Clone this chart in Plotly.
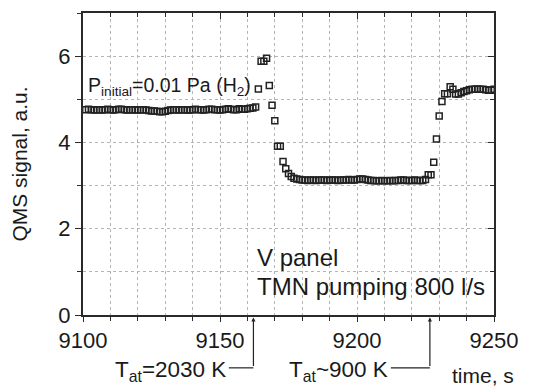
import plotly.graph_objects as go

# ---------------- data ----------------
time_s = [
    9101, 9102, 9103, 9104, 9105, 9106, 9107, 9108, 9109, 9110, 9111, 9112, 9113, 9114, 9115,
    9116, 9117, 9118, 9119, 9120, 9121, 9122, 9123, 9124, 9125, 9126, 9127, 9128, 9129, 9130,
    9131, 9132, 9133, 9134, 9135, 9136, 9137, 9138, 9139, 9140, 9141, 9142, 9143, 9144, 9145,
    9146, 9147, 9148, 9149, 9150, 9151, 9152, 9153, 9154, 9155, 9156, 9157, 9158, 9159, 9160,
    9161, 9162, 9163, 9164, 9165, 9166, 9167, 9168, 9169, 9170, 9171, 9172, 9173, 9174, 9175,
    9176, 9177, 9178, 9179, 9180, 9181, 9182, 9183, 9184, 9185, 9186, 9187, 9188, 9189, 9190,
    9191, 9192, 9193, 9194, 9195, 9196, 9197, 9198, 9199, 9200, 9201, 9202, 9203, 9204, 9205,
    9206, 9207, 9208, 9209, 9210, 9211, 9212, 9213, 9214, 9215, 9216, 9217, 9218, 9219, 9220,
    9221, 9222, 9223, 9224, 9225, 9226, 9227, 9228, 9229, 9230, 9231, 9232, 9233, 9234, 9235,
    9236, 9237, 9238, 9239, 9240, 9241, 9242, 9243, 9244, 9245, 9246, 9247, 9248, 9249, 9250,
]

qms_signal = [
    4.76, 4.77, 4.76, 4.75, 4.76, 4.76, 4.75, 4.76, 4.77, 4.76, 4.75, 4.76, 4.77, 4.77, 4.76,
    4.75, 4.76, 4.76, 4.75, 4.75, 4.76, 4.76, 4.75, 4.74, 4.73, 4.73, 4.72, 4.71, 4.71, 4.72,
    4.74, 4.75, 4.76, 4.76, 4.75, 4.76, 4.76, 4.75, 4.75, 4.76, 4.77, 4.76, 4.76, 4.75, 4.76,
    4.77, 4.77, 4.76, 4.76, 4.75, 4.76, 4.77, 4.78, 4.77, 4.76, 4.76, 4.78, 4.77, 4.77, 4.78,
    4.79, 4.80, 4.82, 5.24, 5.88, 5.88, 5.95, 5.32, 4.86, 4.50, 3.91, 3.91, 3.56, 3.39, 3.28,
    3.21, 3.17, 3.15, 3.14, 3.13, 3.13, 3.12, 3.13, 3.13, 3.12, 3.13, 3.13, 3.13, 3.12, 3.13,
    3.13, 3.13, 3.12, 3.13, 3.13, 3.13, 3.14, 3.13, 3.13, 3.14, 3.15, 3.15, 3.14, 3.13, 3.12,
    3.12, 3.11, 3.11, 3.12, 3.11, 3.11, 3.12, 3.11, 3.12, 3.12, 3.13, 3.13, 3.12, 3.12, 3.12,
    3.13, 3.12, 3.12, 3.12, 3.14, 3.25, 3.25, 3.54, 4.08, 4.61, 4.95, 5.13, 5.13, 5.29, 5.23,
    5.12, 5.12, 5.15, 5.18, 5.20, 5.22, 5.23, 5.23, 5.24, 5.23, 5.23, 5.22, 5.21, 5.21, 5.23,
]

x_range = [9100, 9250]
y_range = [0, 7]
x_major = [9100, 9150, 9200, 9250]
y_major = [0, 2, 4, 6]

# event markers (time of the arrow, label)
event_times = [9162.2, 9226.6]
event_labels = ["T<sub>at</sub>=2030 K", "T<sub>at</sub>~900 K"]

FONT = "Liberation Sans, Arial, sans-serif"
AX = "#2a2a2a"
GRID = "#b5b5b5"
TXT = "#1a1a1a"

fig = go.Figure()
fig.add_trace(go.Scatter(
    x=time_s, y=qms_signal, mode="markers",
    marker=dict(symbol="square-open", size=6, color="#222222", line=dict(width=1.5)),
    showlegend=False, hoverinfo="skip",
))
# invisible companion trace to activate the mirrored (top/right) axes
fig.add_trace(go.Scatter(
    x=time_s, y=qms_signal, mode="markers", xaxis="x2", yaxis="y2",
    marker=dict(opacity=0), showlegend=False, hoverinfo="skip",
))

common_grid = dict(showgrid=True, gridcolor=GRID, griddash="dot", gridwidth=1)

# the page body adds an 8 px offset, so the figure is 8 px smaller on each side
fig.update_layout(
    width=536, height=379,
    margin=dict(l=75, r=50, t=5, b=72),
    paper_bgcolor="white", plot_bgcolor="white",
    font=dict(family=FONT, color=TXT),
    xaxis=dict(
        range=x_range, tickvals=x_major, ticks="outside", ticklen=5, tickwidth=1.3,
        tickcolor=AX, showline=True, linecolor=AX, linewidth=2, zeroline=False,
        automargin=False,
        tickfont=dict(size=22, family=FONT, color=TXT),
        minor=dict(dtick=10, tick0=9100, ticks="outside", ticklen=4, tickwidth=1.2,
                   tickcolor=AX, **common_grid),
        **common_grid,
    ),
    yaxis=dict(
        range=y_range, tickvals=y_major, ticks="outside", ticklen=6, tickwidth=1.3,
        tickcolor=AX, showline=True, linecolor=AX, linewidth=2, zeroline=False,
        automargin=False,
        tickfont=dict(size=22, family=FONT, color=TXT),
        title=dict(text="QMS signal, a.u.", font=dict(size=21, family=FONT), standoff=27),
        minor=dict(dtick=1, tick0=0, ticks="outside", ticklen=4, tickwidth=1.2,
                   tickcolor=AX, **common_grid),
        **common_grid,
    ),
    xaxis2=dict(
        overlaying="x", side="top", range=x_range, tickvals=x_major, ticks="inside",
        ticklen=6, tickwidth=1.3, tickcolor=AX, showline=True, linecolor=AX, linewidth=2,
        showticklabels=False, showgrid=False, zeroline=False, automargin=False,
        minor=dict(dtick=10, tick0=9100, ticks="inside", ticklen=4, tickwidth=1.2, tickcolor=AX),
    ),
    yaxis2=dict(
        overlaying="y", side="right", range=y_range, tickvals=y_major, ticks="inside",
        ticklen=6, tickwidth=1.3, tickcolor=AX, showline=True, linecolor=AX, linewidth=2,
        showticklabels=False, showgrid=False, zeroline=False, automargin=False,
        minor=dict(dtick=1, tick0=0, ticks="inside", ticklen=4, tickwidth=1.2, tickcolor=AX),
    ),
)

ann = []
ann.append(dict(
    text="P<sub>initial</sub>=0.01 Pa (H<sub>2</sub>)", xref="x", yref="y",
    x=9101.2, y=5.3, xanchor="left", yanchor="middle", showarrow=False,
    font=dict(size=19.5, family=FONT, color=TXT),
))
ann.append(dict(
    text="V panel", xref="x", yref="y", x=9162.6, y=1.34,
    xanchor="left", yanchor="middle", showarrow=False,
    font=dict(size=24, family=FONT, color=TXT),
))
ann.append(dict(
    text="TMN pumping 800 l/s", xref="x", yref="y", x=9162.6, y=0.66,
    xanchor="left", yanchor="middle", showarrow=False,
    font=dict(size=24, family=FONT, color=TXT),
))
ann.append(dict(
    text="time, s", xref="paper", yref="paper", x=0.973, y=-0.2,
    xanchor="center", yanchor="middle", showarrow=False,
    font=dict(size=21, family=FONT, color=TXT),
))

span = x_range[1] - x_range[0]
corner_y = -0.175
label_gap = [0.06, 0.095]
shapes = []
for t, lab, gap in zip(event_times, event_labels, label_gap):
    px = (t - x_range[0]) / span
    # upward arrow to the axis
    ann.append(dict(
        text="", xref="paper", yref="paper", x=px, y=-0.008, ax=0, ay=50,
        showarrow=True, arrowhead=2, arrowsize=0.7, arrowwidth=1.2, arrowcolor="#222222",
    ))
    # horizontal leader line
    shapes.append(dict(type="line", xref="paper", yref="paper",
                       x0=px - gap, x1=px, y0=corner_y, y1=corner_y,
                       line=dict(color="#222222", width=1.2)))
    ann.append(dict(
        text=lab, xref="paper", yref="paper", x=px - gap - 0.003, y=corner_y - 0.012,
        xanchor="right", yanchor="middle", showarrow=False,
        font=dict(size=22.5, family=FONT, color=TXT),
    ))

fig.update_layout(annotations=ann, shapes=shapes)
fig.write_html("out.html")
